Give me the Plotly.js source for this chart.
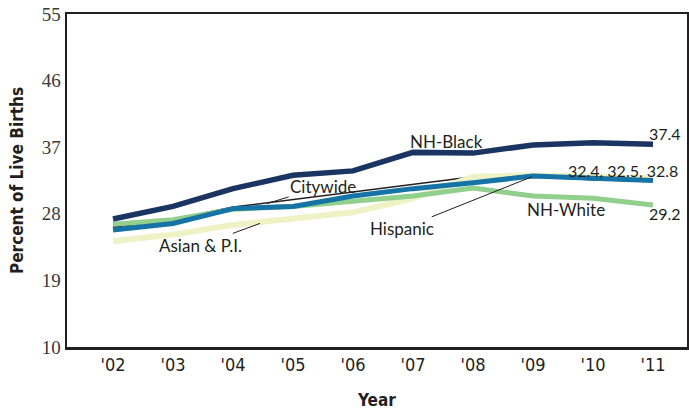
<!DOCTYPE html>
<html><head><meta charset="utf-8">
<script src="https://cdn.plot.ly/plotly-3.0.1.min.js"></script>
<style>body{margin:0;background:#fff}#c{width:689px;height:410px}</style>
</head><body><div id="c"></div>
<script>
const years = ["'02","'03","'04","'05","'06","'07","'08","'09","'10","'11"];
const citywide = [26.2, 27.2, 28.9, 29.9, 31.0, 32.0, 33.0, 33.0, 32.6, 32.4];
const asianPI = [24.3, 25.2, 26.5, 27.3, 28.2, 30.1, 33.0, 33.2, 33.0, 32.8];
const nhWhite = [26.6, 27.2, 28.6, 29.0, 29.7, 30.4, 31.5, 30.4, 30.1, 29.2];
const hispanic = [25.8, 26.7, 28.7, 29.0, 30.4, 31.4, 32.2, 33.1, 32.8, 32.5];
const nhBlack = [27.3, 29.0, 31.4, 33.2, 33.8, 36.3, 36.2, 37.3, 37.6, 37.4];
const yTicks = [10, 19, 28, 37, 46, 55];

function tr(y, color, width){
  return {x: years, y: y, type:'scatter', mode:'lines', line:{color:color, width:width}, hoverinfo:'skip'};
}
const data = [
  tr(citywide, '#231f20', 1.6),
  tr(asianPI, '#eef3c6', 6),
  tr(nhWhite, '#90cf8c', 5),
  tr(hispanic, '#1673a6', 5),
  tr(nhBlack, '#1b3562', 5.5)
];
const lab = {family:'Lato, "Open Sans", sans-serif', size:17, color:'#231f20'};
const numf = {family:'Lato, "Open Sans", sans-serif', size:16, color:'#231f20'};
const arr = {showarrow:true, arrowhead:0, arrowwidth:1, arrowcolor:'#231f20', standoff:0, xref:'x', yref:'y'};
const annotations = [
  {x:5.55, y:37.8, xref:'x', yref:'y', text:'NH-Black', showarrow:false, font:lab},
  Object.assign({x:2.57, y:29.4, ax:56, ay:-17, text:'Citywide', font:lab}, arr),
  Object.assign({x:2.45, y:26.7, ax:-60, ay:22, text:'Asian & P.I.', font:lab}, arr),
  Object.assign({x:6.98, y:33.0, ax:-130, ay:52, text:'Hispanic', font:lab}, arr),
  {x:7.55, y:28.6, xref:'x', yref:'y', text:'NH-White', showarrow:false, font:lab},
  {x:9.2, y:38.9, xref:'x', yref:'y', text:'37.4', showarrow:false, font:numf},
  {x:8.5, y:33.9, xref:'x', yref:'y', text:'32.4, 32.5, 32.8', showarrow:false, font:numf},
  {x:9.2, y:28.1, xref:'x', yref:'y', text:'29.2', showarrow:false, font:numf}
];
const layout = {
  width:689, height:410,
  margin:{l:67, r:2, t:14, b:63},
  paper_bgcolor:'#fff', plot_bgcolor:'#fff',
  showlegend:false,
  xaxis:{type:'category', range:[-0.767, 9.567], showgrid:false, zeroline:false,
    showline:true, mirror:true, linecolor:'#231f20', linewidth:2.5, ticks:'',
    tickfont:{family:'DejaVu Sans Condensed', size:18, color:'#231f20'},
    title:{text:'<b>Year</b>', font:{family:'DejaVu Sans Condensed', size:17, color:'#231f20'}, standoff:20}},
  yaxis:{range:[10,55], tickvals:yTicks, showgrid:false, zeroline:false,
    showline:true, mirror:true, linecolor:'#231f20', linewidth:2.5, ticks:'',
    tickfont:{family:'Liberation Serif, Times New Roman, serif', size:19, color:'#3a3a3a'},
    title:{text:'<b>Percent of Live Births</b>', font:{family:'DejaVu Sans Condensed', size:17, color:'#231f20'}, standoff:14}},
  annotations: annotations
};
Plotly.newPlot('c', data, layout, {staticPlot:true, displayModeBar:false});
</script></body></html>
